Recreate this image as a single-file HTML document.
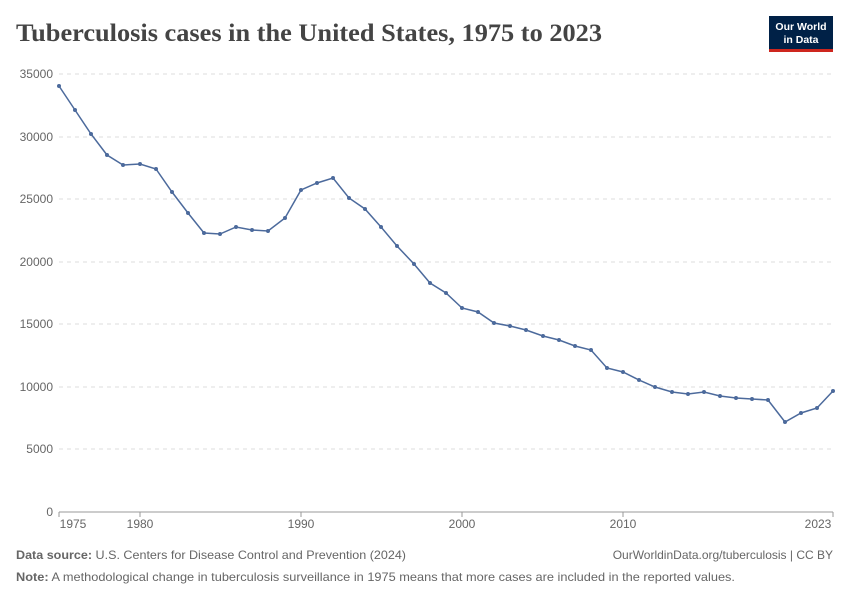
<!DOCTYPE html>
<html><head><meta charset="utf-8"><style>
body{margin:0;background:#fff;width:850px;height:600px;overflow:hidden;font-family:"Liberation Sans",sans-serif}
</style></head><body>
<svg width="850" height="600" xmlns="http://www.w3.org/2000/svg">
<text x="16" y="41" font-family="Liberation Serif,serif" font-size="25" font-weight="bold" fill="#444" textLength="586" lengthAdjust="spacingAndGlyphs">Tuberculosis cases in the United States, 1975 to 2023</text>
<rect x="769" y="16" width="64" height="36" fill="#002147"/>
<rect x="769" y="49" width="64" height="3" fill="#ce261e"/>
<text x="801" y="30" text-anchor="middle" font-size="10.5" font-weight="bold" fill="#fff">Our World</text>
<text x="801" y="43" text-anchor="middle" font-size="10.5" font-weight="bold" fill="#fff">in Data</text>
<g stroke="#ddd" stroke-dasharray="4,4">
<line x1="59" x2="833" y1="74" y2="74"/><line x1="59" x2="833" y1="137" y2="137"/>
<line x1="59" x2="833" y1="199" y2="199"/><line x1="59" x2="833" y1="262" y2="262"/>
<line x1="59" x2="833" y1="324" y2="324"/><line x1="59" x2="833" y1="387" y2="387"/>
<line x1="59" x2="833" y1="449" y2="449"/>
</g>
<line x1="59" x2="833" y1="512" y2="512" stroke="#999"/>
<g font-size="12" fill="#666" text-anchor="end">
<text x="53" y="78">35000</text><text x="53" y="141">30000</text><text x="53" y="203">25000</text>
<text x="53" y="266">20000</text><text x="53" y="328">15000</text><text x="53" y="391">10000</text>
<text x="53" y="453">5000</text><text x="53" y="516">0</text>
</g>
<g font-size="12" fill="#666" text-anchor="middle">
<text x="73" y="528">1975</text><text x="140" y="528">1980</text><text x="301" y="528">1990</text>
<text x="462" y="528">2000</text><text x="623" y="528">2010</text><text x="818" y="528">2023</text>
</g>
<g stroke="#999"><line x1="59" x2="59" y1="512" y2="517"/><line x1="140" x2="140" y1="512" y2="517"/><line x1="301" x2="301" y1="512" y2="517"/><line x1="462" x2="462" y1="512" y2="517"/><line x1="623" x2="623" y1="512" y2="517"/><line x1="833" x2="833" y1="512" y2="517"/></g>
<polyline fill="none" stroke="#4c6a9c" stroke-width="1.5" points="59,86 75,110 91,134 107,155 123,165 140,164 156,169 172,192 188,213 204,233 220,234 236,227 252,230 268,231 285,218 301,190 317,183 333,178 349,198 365,209 381,227 397,246 414,264 430,283 446,293 462,308 478,312 494,323 510,326 526,330 543,336 559,340 575,346 591,350 607,368 623,372 639,380 655,387 672,392 688,394 704,392 720,396 736,398 752,399 768,400 785,422 801,413 817,408 833,391"/>
<g fill="#4c6a9c">
<circle cx="59" cy="86" r="2"/><circle cx="75" cy="110" r="2"/><circle cx="91" cy="134" r="2"/><circle cx="107" cy="155" r="2"/><circle cx="123" cy="165" r="2"/><circle cx="140" cy="164" r="2"/><circle cx="156" cy="169" r="2"/><circle cx="172" cy="192" r="2"/><circle cx="188" cy="213" r="2"/><circle cx="204" cy="233" r="2"/><circle cx="220" cy="234" r="2"/><circle cx="236" cy="227" r="2"/><circle cx="252" cy="230" r="2"/><circle cx="268" cy="231" r="2"/><circle cx="285" cy="218" r="2"/><circle cx="301" cy="190" r="2"/><circle cx="317" cy="183" r="2"/><circle cx="333" cy="178" r="2"/><circle cx="349" cy="198" r="2"/><circle cx="365" cy="209" r="2"/><circle cx="381" cy="227" r="2"/><circle cx="397" cy="246" r="2"/><circle cx="414" cy="264" r="2"/><circle cx="430" cy="283" r="2"/><circle cx="446" cy="293" r="2"/><circle cx="462" cy="308" r="2"/><circle cx="478" cy="312" r="2"/><circle cx="494" cy="323" r="2"/><circle cx="510" cy="326" r="2"/><circle cx="526" cy="330" r="2"/><circle cx="543" cy="336" r="2"/><circle cx="559" cy="340" r="2"/><circle cx="575" cy="346" r="2"/><circle cx="591" cy="350" r="2"/><circle cx="607" cy="368" r="2"/><circle cx="623" cy="372" r="2"/><circle cx="639" cy="380" r="2"/><circle cx="655" cy="387" r="2"/><circle cx="672" cy="392" r="2"/><circle cx="688" cy="394" r="2"/><circle cx="704" cy="392" r="2"/><circle cx="720" cy="396" r="2"/><circle cx="736" cy="398" r="2"/><circle cx="752" cy="399" r="2"/><circle cx="768" cy="400" r="2"/><circle cx="785" cy="422" r="2"/><circle cx="801" cy="413" r="2"/><circle cx="817" cy="408" r="2"/><circle cx="833" cy="391" r="2"/>
</g>
<text x="16" y="559" font-size="12" fill="#666" textLength="390" lengthAdjust="spacingAndGlyphs"><tspan font-weight="bold">Data source:</tspan> U.S. Centers for Disease Control and Prevention (2024)</text>
<text x="833" y="559" font-size="12" fill="#666" text-anchor="end">OurWorldinData.org/tuberculosis | CC BY</text>
<text x="16" y="581" font-size="12" fill="#666" textLength="719" lengthAdjust="spacingAndGlyphs"><tspan font-weight="bold">Note:</tspan> A methodological change in tuberculosis surveillance in 1975 means that more cases are included in the reported values.</text>
</svg>
</body></html>
